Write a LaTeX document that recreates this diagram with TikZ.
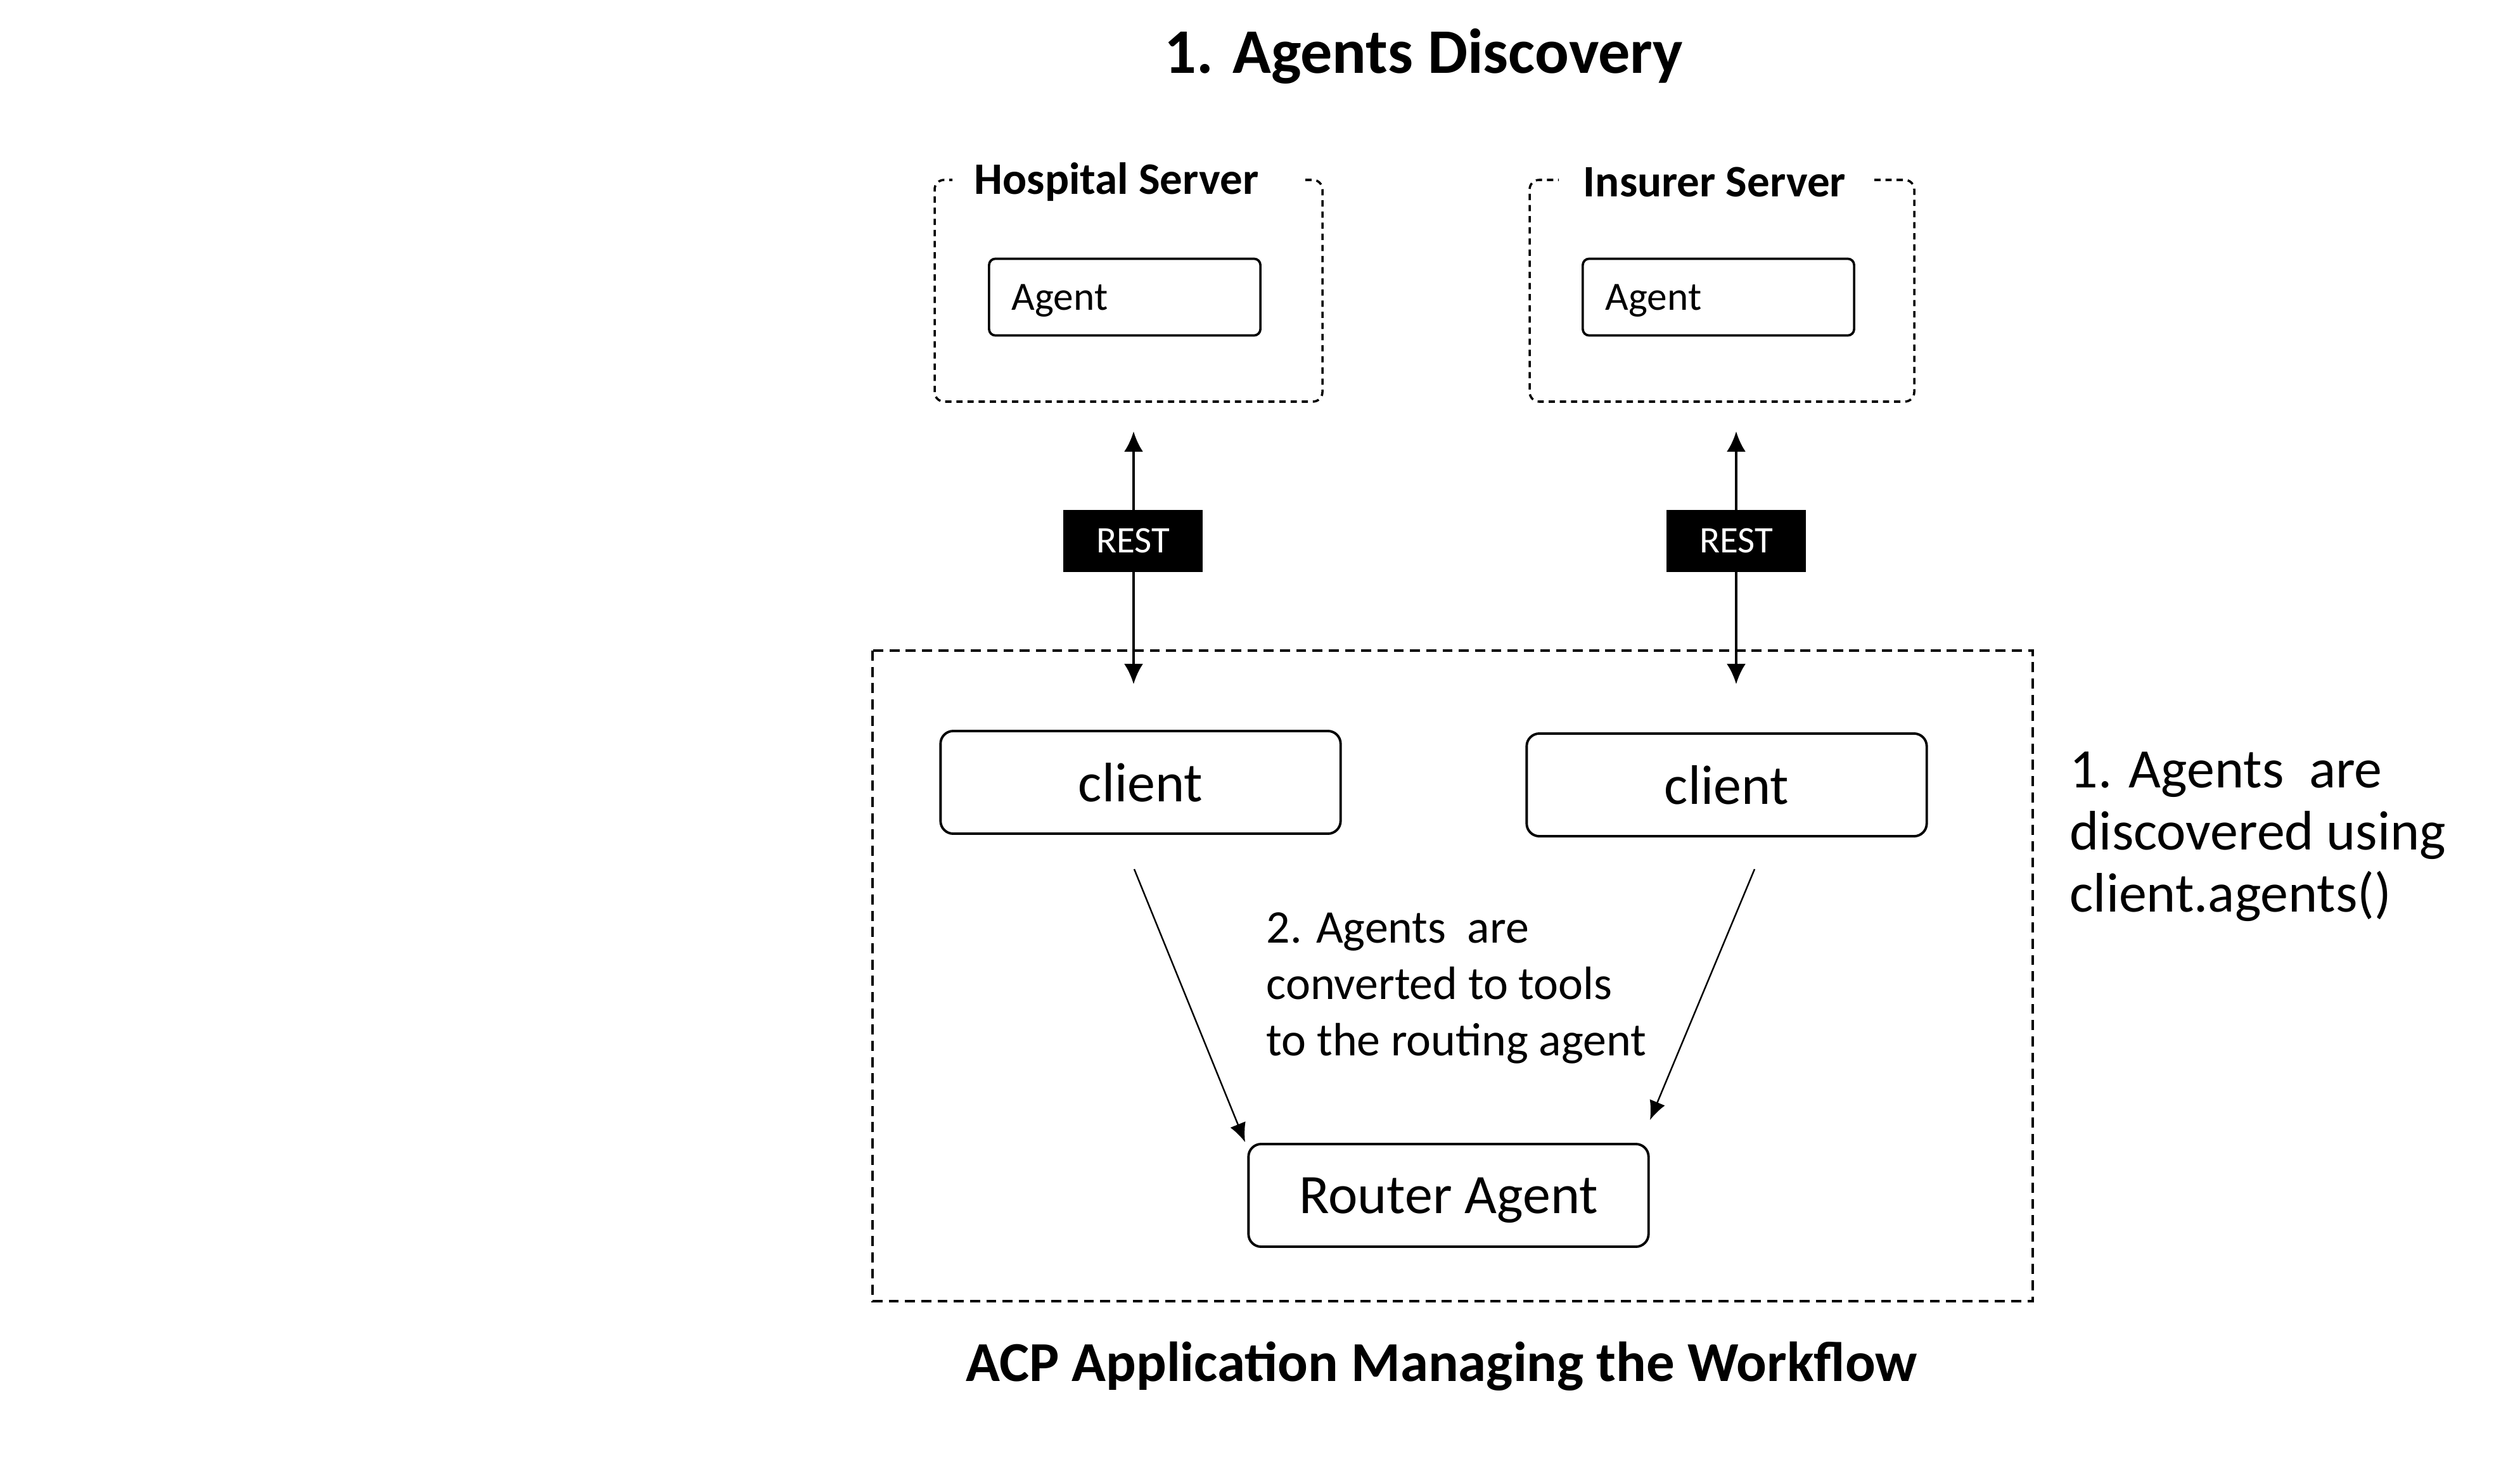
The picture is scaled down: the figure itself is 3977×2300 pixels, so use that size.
\documentclass[tikz,border=0pt]{standalone}
\usepackage{fontspec}
\setmainfont{Carlito}
\usetikzlibrary{arrows.meta}
\begin{document}
\begin{tikzpicture}[x=0.01cm,y=-0.01cm,
  solidbox/.style={draw, line width=1.1pt, rounded corners=0.2cm, minimum width=6.31cm, minimum height=1.62cm, inner sep=0pt, text depth=0pt, font=\fontsize{25}{30}\selectfont},
  agentbox/.style={draw, line width=1.05pt, rounded corners=0.1cm, inner xsep=0.36cm, inner ysep=0pt, text width=3.56cm, text depth=0pt, minimum height=1.21cm, align=left, font=\fontsize{18}{22}\selectfont},
  serverbox/.style={line width=1pt, dash pattern=on 2.8pt off 2.2pt, rounded corners=0.15cm},
  appbox/.style={line width=1pt, dash pattern=on 4.5pt off 2.8pt},
  restbox/.style={fill=black, text=white, minimum width=2.2cm, minimum height=0.98cm, inner sep=0pt, font=\fontsize{16.8}{20}\selectfont},
  servertitle/.style={font=\bfseries\fontsize{20.2}{24}\selectfont, inner sep=0pt},
  bigtitle/.style={font=\bfseries\fontsize{27}{32}\selectfont, inner sep=0pt},
  note/.style={align=left, inner sep=0pt},
  biarrow/.style={line width=1.1pt, {Latex[length=0.32cm,width=0.3cm]}-{Latex[length=0.32cm,width=0.3cm]}},
  thinarrow/.style={line width=0.7pt, -{Latex[length=0.3cm,width=0.26cm]}}
]
\useasboundingbox (0,0) rectangle (3977,2300);

% titles
\node[bigtitle, font=\bfseries\fontsize{28.5}{33}\selectfont] (title) at (2247,89) {1. Agents Discovery};
\node[bigtitle, font=\bfseries\fontsize{25.3}{30}\selectfont] (apptitle) at (2275,2157) {ACP Application Managing the Workflow};

% hospital server
\node[servertitle] (hosptitle) at (1762,287) {Hospital Server};
\coordinate (hgl) at (1503,284);
\coordinate (hgr) at (2060,284);
\draw[serverbox] (hgr) -- (2087,284) -- (2087,634) -- (1475,634) -- (1475,284) -- (hgl);
\node[agentbox] (hagent) at (1775,469) {Agent};

% insurer server
\node[servertitle] (instittle) at (2706,287) {Insurer Server};
\coordinate (igl) at (2460,284);
\coordinate (igr) at (2958,284);
\draw[serverbox] (igr) -- (3021,284) -- (3021,634) -- (2414,634) -- (2414,284) -- (igl);
\node[agentbox] (iagent) at (2712,469) {Agent};

% application box
\draw[appbox] (1377,1027) rectangle (3208,2054);

% REST arrows
\coordinate (h1) at (1789,681);
\coordinate (h2) at (1789,1080);
\draw[biarrow] (h1) -- (h2);
\node[restbox] (rest1) at (1788,854) {REST};

\coordinate (i1) at (2740,681);
\coordinate (i2) at (2740,1080);
\draw[biarrow] (i1) -- (i2);
\node[restbox] (rest2) at (2740,854) {REST};

% clients and router
\node[solidbox] (client1) at (1800,1235) {client};
\node[solidbox] (client2) at (2725,1239) {client};
\node[solidbox] (router) at (2286,1887) {Router Agent};

\coordinate (d1s) at (1790,1372);
\coordinate (d1e) at (1965,1803);
\coordinate (d2s) at (2769,1372);
\coordinate (d2e) at (2604,1768);
\draw[thinarrow] (d1s) -- (d1e);
\draw[thinarrow] (d2s) -- (d2e);

% notes
\node[note, anchor=west, font=\fontsize{21}{25.3}\selectfont] (note2) at (1998,1560) {2. Agents\ \ are\\converted to tools\\to the routing agent};
\node[note, anchor=west, font=\fontsize{25}{27.9}\selectfont] (note1) at (3266,1321) {1. Agents\ \ are\\discovered using\\client.agents()};
\end{tikzpicture}
\end{document}
